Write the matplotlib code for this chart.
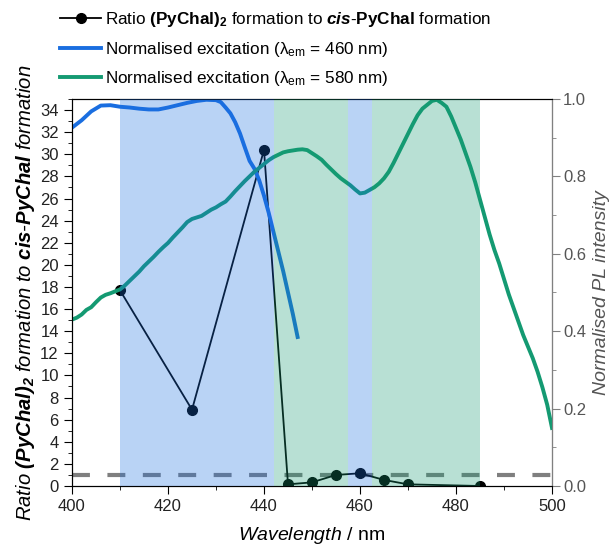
import numpy as np
import matplotlib
matplotlib.use('Agg')
import matplotlib.pyplot as plt
from matplotlib.ticker import MultipleLocator

plt.rcParams['font.family'] = ['Liberation Sans', 'DejaVu Sans']
plt.rcParams['mathtext.fontset'] = 'custom'
plt.rcParams['mathtext.rm'] = 'Liberation Sans'
plt.rcParams['mathtext.it'] = 'Liberation Sans:italic'
plt.rcParams['mathtext.bf'] = 'Liberation Sans:bold'
plt.rcParams['mathtext.bfit'] = 'Liberation Sans:italic:bold'

# ratio (PyChal)2 / cis-PyChal
wl_ratio = [410, 425, 440, 445, 450, 455, 460, 465, 470, 485]
ratio = [17.7, 6.9, 30.4, 0.15, 0.33, 1.0, 1.15, 0.55, 0.15, 0.0]

# normalised excitation, em 460 nm
wl_blue = [400, 402, 404, 406, 408, 410, 412, 414, 416, 418, 420, 422, 424, 426, 428,
           430, 431, 432, 433, 434, 435, 436, 437, 438, 439, 440, 441, 442, 443, 444,
           445, 446, 447]
exc_blue = [0.926, 0.945, 0.968, 0.983, 0.984, 0.980, 0.978, 0.975, 0.973, 0.973, 0.978,
            0.984, 0.990, 0.995, 0.998, 0.997, 0.992, 0.978, 0.963, 0.940, 0.911, 0.875,
            0.840, 0.820, 0.790, 0.750, 0.705, 0.655, 0.605, 0.555, 0.500, 0.445, 0.385]

# normalised excitation, em 580 nm
wl_green = list(range(400, 501))
exc_green = [0.430, 0.435, 0.443, 0.455, 0.462, 0.475, 0.487, 0.494, 0.498, 0.503,
             0.508, 0.518, 0.530, 0.542, 0.554, 0.568, 0.580, 0.592, 0.605, 0.617,
             0.628, 0.642, 0.655, 0.668, 0.682, 0.690, 0.694, 0.698, 0.706, 0.714,
             0.720, 0.728, 0.735, 0.748, 0.762, 0.775, 0.788, 0.800, 0.812, 0.822,
             0.832, 0.842, 0.850, 0.856, 0.862, 0.865, 0.867, 0.869, 0.870, 0.868,
             0.860, 0.852, 0.843, 0.830, 0.818, 0.806, 0.795, 0.786, 0.777, 0.766,
             0.756, 0.758, 0.765, 0.772, 0.782, 0.795, 0.812, 0.835, 0.860, 0.885,
             0.910, 0.935, 0.958, 0.975, 0.985, 0.995, 0.998, 0.990, 0.980, 0.955,
             0.925, 0.895, 0.860, 0.825, 0.785, 0.740, 0.695, 0.650, 0.610, 0.575,
             0.535, 0.495, 0.460, 0.425, 0.390, 0.360, 0.330, 0.295, 0.255, 0.210,
             0.150]

# shaded bands (start, end, colour)
bands = [(410, 442, 'blue'), (442, 457.4, 'green'), (457.4, 462.6, 'blue'), (462.6, 485, 'green')]

blue = '#1a6ee0'
green = '#149a72'

fig = plt.figure(figsize=(6.15, 5.46), dpi=100)
ax = fig.add_axes([72 / 615, 60 / 546, 480 / 615, 387 / 546])
ax2 = ax.twinx()

l1, = ax.plot(wl_ratio, ratio, color='black', lw=1.3, marker='o', ms=7, zorder=3)
ax.axhline(1, color='#7f7f7f', lw=3, dashes=(4.3, 4.2), zorder=2)

l2, = ax2.plot(wl_blue, exc_blue, color=blue, lw=2.8)
l3, = ax2.plot(wl_green, exc_green, color=green, lw=2.8)

for a, b, c in bands:
    ax2.axvspan(a, b, color=blue if c == 'blue' else green, alpha=0.3, lw=0, zorder=10)

ax.set_xlim(400, 500)
ax.set_ylim(0, 35)
ax2.set_ylim(0, 1)

ax.xaxis.set_major_locator(MultipleLocator(20))
ax.xaxis.set_minor_locator(MultipleLocator(10))
ax.yaxis.set_major_locator(MultipleLocator(2))
ax.yaxis.set_minor_locator(MultipleLocator(1))
ax2.yaxis.set_major_locator(MultipleLocator(0.2))
ax2.yaxis.set_minor_locator(MultipleLocator(0.1))
ax2.yaxis.set_major_formatter(plt.FormatStrFormatter('%.1f'))

ax.tick_params(which='major', length=6, labelsize=12, labelcolor='#222222')
ax.tick_params(which='minor', length=3)
ax2.tick_params(which='major', length=6, pad=2, labelsize=12, color='#808080', labelcolor='#555555')
ax2.tick_params(which='minor', length=3, color='#808080')
ax2.spines['right'].set_color('#808080')

ax.set_xlabel('$\\mathit{Wavelength}$ / nm', fontsize=14, labelpad=8)
ax.set_ylabel('Ratio $\\mathbfit{(PyChal)_2}$ formation to $\\mathbfit{cis}$-$\\mathbfit{PyChal}$ formation',
              fontsize=14.6, style='italic', labelpad=2)
ax2.set_ylabel('Normalised PL intensity', fontsize=14, style='italic', color='#555555', labelpad=5)

labels = ['Ratio $\\mathbf{(PyChal)_2}$ formation to $\\mathbfit{cis}$-$\\mathbf{PyChal}$ formation',
          'Normalised excitation (λ$_{\\mathrm{em}}$ = 460 nm)',
          'Normalised excitation (λ$_{\\mathrm{em}}$ = 580 nm)']
fig.legend([l1, l2, l3], labels, loc='upper left', bbox_to_anchor=(60 / 615, 1 - 10 / 546),
           frameon=False, fontsize=12.3, handlelength=2.4, handletextpad=0.25,
           labelspacing=0.62, borderpad=0, borderaxespad=0)

fig.savefig('out.png', dpi=100)
